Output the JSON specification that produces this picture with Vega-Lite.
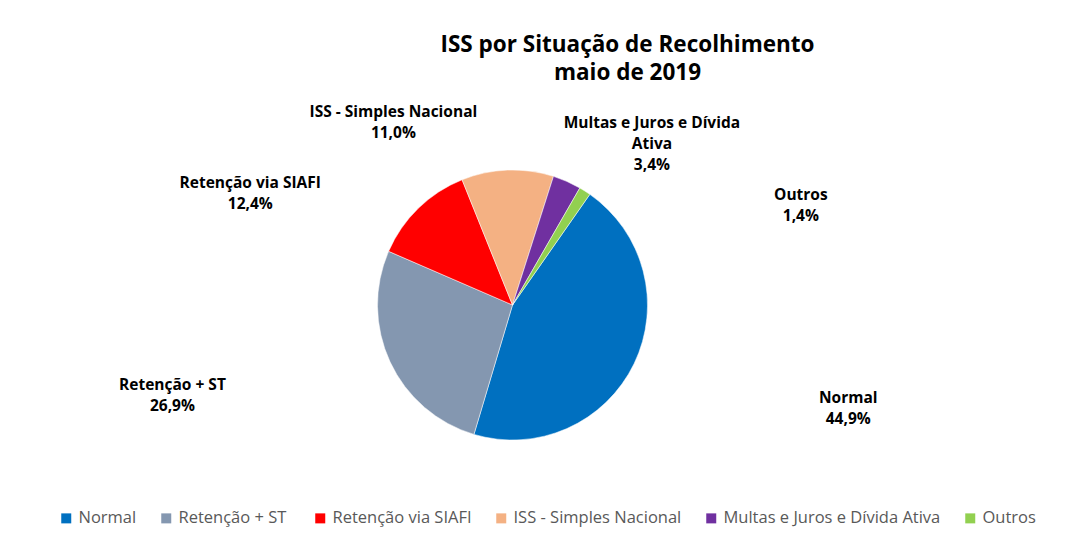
{
  "$schema": "https://vega.github.io/schema/vega-lite/v6.json",
  "width": 1025,
  "height": 290,
  "autosize": "none",
  "background": "white",
  "padding": {"left": 0, "right": 44, "top": 160, "bottom": 94},
  "title": {
    "text": ["ISS por Situação de Recolhimento", "maio de 2019"],
    "font": "Open Sans",
    "fontSize": 22.5,
    "fontWeight": "bold",
    "color": "#000000",
    "anchor": "middle",
    "dx": 115,
    "lineHeight": 28,
    "offset": 21
  },
  "data": {
    "values": [
      {"categoria": "Normal", "valor": 44.9, "ordem": 1, "rotulo": "Normal\n44,9%"},
      {"categoria": "Retenção  + ST", "valor": 26.9, "ordem": 2, "rotulo": "Retenção  + ST\n26,9%"},
      {"categoria": "Retenção via SIAFI", "valor": 12.4, "ordem": 3, "rotulo": "Retenção via SIAFI\n12,4%"},
      {"categoria": "ISS - Simples Nacional", "valor": 11.0, "ordem": 4, "rotulo": "ISS - Simples Nacional\n11,0%"},
      {"categoria": "Multas e Juros e Dívida Ativa", "valor": 3.4, "ordem": 5, "rotulo": "Multas e Juros e Dívida\nAtiva\n3,4%"},
      {"categoria": "Outros", "valor": 1.4, "ordem": 6, "rotulo": "Outros\n1,4%"}
    ]
  },
  "transform": [
    {"stack": "valor", "groupby": [], "sort": [{"field": "ordem", "order": "ascending"}], "as": ["v0", "v1"]},
    {"calculate": "(datum.v0 + datum.v1) / 2", "as": "vm"}
  ],
  "encoding": {
    "color": {
      "field": "categoria",
      "type": "nominal",
      "sort": null,
      "scale": {
        "domain": ["Normal", "Retenção  + ST", "Retenção via SIAFI", "ISS - Simples Nacional", "Multas e Juros e Dívida Ativa", "Outros"],
        "range": ["#0070C0", "#8497B0", "#FF0000", "#F4B183", "#7030A0", "#92D050"]
      },
      "legend": {
        "orient": "none",
        "legendX": 58,
        "legendY": 350,
        "direction": "horizontal",
        "title": null,
        "symbolType": "square",
        "symbolSize": 100,
        "labelFont": "Open Sans",
        "labelFontSize": 16.5,
        "labelColor": "#595959",
        "labelLimit": 0,
        "columnPadding": 21,
        "symbolStrokeWidth": 0
      }
    }
  },
  "layer": [
    {
      "mark": {"type": "arc", "outerRadius": 135, "stroke": "white", "strokeWidth": 0.5},
      "encoding": {
        "theta": {"field": "v0", "type": "quantitative", "stack": null, "scale": {"domain": [0, 100], "range": [0.61, 6.8932]}},
        "theta2": {"field": "v1"}
      }
    },
    {
      "transform": [{"filter": "datum.ordem == 1"}],
      "mark": {"type": "text", "radius": 234, "dx": 125, "dy": -9, "font": "Open Sans", "fontSize": 15.5, "fontWeight": "bold", "lineBreak": "\n", "lineHeight": 21, "align": "center", "baseline": "middle"},
      "encoding": {"theta": {"field": "vm", "type": "quantitative", "stack": null}, "text": {"field": "rotulo", "type": "nominal"}, "color": {"value": "#000000"}}
    },
    {
      "transform": [{"filter": "datum.ordem == 2"}],
      "mark": {"type": "text", "radius": 213, "dx": -147, "dy": -10, "font": "Open Sans", "fontSize": 15.5, "fontWeight": "bold", "lineBreak": "\n", "lineHeight": 21, "align": "center", "baseline": "middle"},
      "encoding": {"theta": {"field": "vm", "type": "quantitative", "stack": null}, "text": {"field": "rotulo", "type": "nominal"}, "color": {"value": "#000000"}}
    },
    {
      "transform": [{"filter": "datum.ordem == 3"}],
      "mark": {"type": "text", "radius": 158, "dx": -152, "dy": -9, "font": "Open Sans", "fontSize": 15.5, "fontWeight": "bold", "lineBreak": "\n", "lineHeight": 21, "align": "center", "baseline": "middle"},
      "encoding": {"theta": {"field": "vm", "type": "quantitative", "stack": null}, "text": {"field": "rotulo", "type": "nominal"}, "color": {"value": "#000000"}}
    },
    {
      "transform": [{"filter": "datum.ordem == 4"}],
      "mark": {"type": "text", "radius": 192, "dx": -112, "dy": -1, "font": "Open Sans", "fontSize": 15.5, "fontWeight": "bold", "lineBreak": "\n", "lineHeight": 21, "align": "center", "baseline": "middle"},
      "encoding": {"theta": {"field": "vm", "type": "quantitative", "stack": null}, "text": {"field": "rotulo", "type": "nominal"}, "color": {"value": "#000000"}}
    },
    {
      "transform": [{"filter": "datum.ordem == 5"}],
      "mark": {"type": "text", "radius": 177, "dx": 68, "dy": -20, "font": "Open Sans", "fontSize": 15.5, "fontWeight": "bold", "lineBreak": "\n", "lineHeight": 21, "align": "center", "baseline": "middle"},
      "encoding": {"theta": {"field": "vm", "type": "quantitative", "stack": null}, "text": {"field": "rotulo", "type": "nominal"}, "color": {"value": "#000000"}}
    },
    {
      "transform": [{"filter": "datum.ordem == 6"}],
      "mark": {"type": "text", "radius": 120, "dx": 224, "dy": -9, "font": "Open Sans", "fontSize": 15.5, "fontWeight": "bold", "lineBreak": "\n", "lineHeight": 21, "align": "center", "baseline": "middle"},
      "encoding": {"theta": {"field": "vm", "type": "quantitative", "stack": null}, "text": {"field": "rotulo", "type": "nominal"}, "color": {"value": "#000000"}}
    }
  ],
  "config": {
    "view": {"stroke": null}
  }
}
